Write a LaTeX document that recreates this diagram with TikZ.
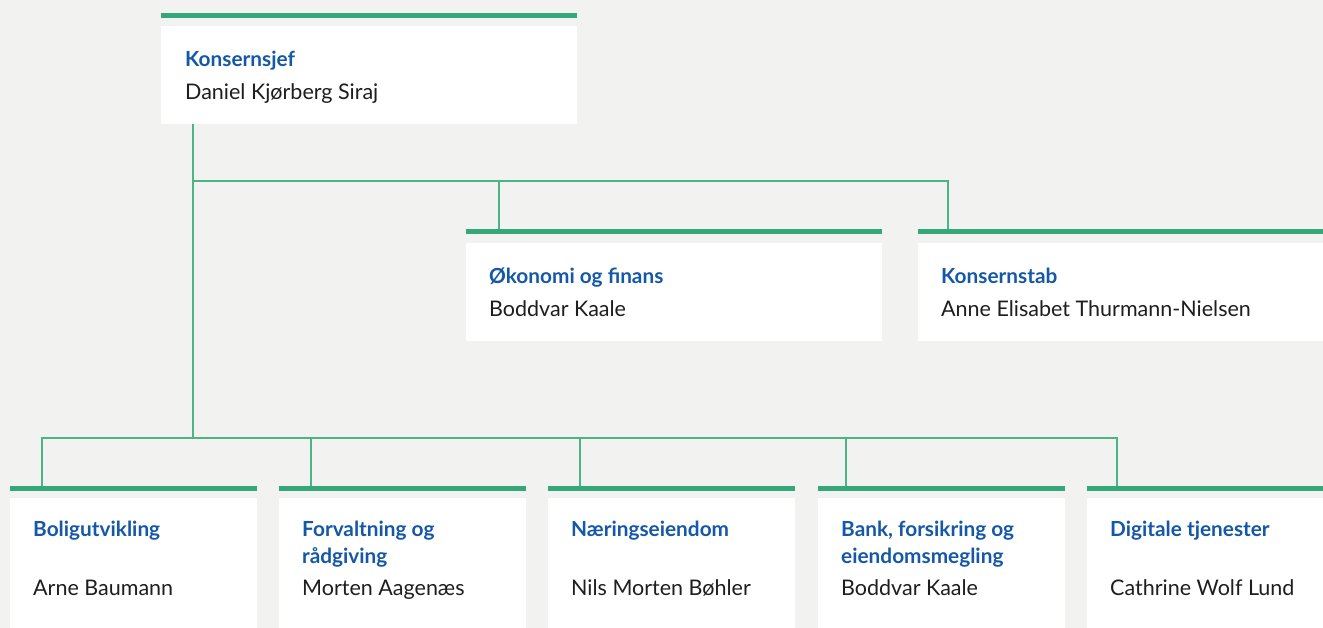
\documentclass[tikz,border=0pt]{standalone}
\usepackage{fontspec}
\setmainfont{Lato}
\usepackage{xcolor}
\usetikzlibrary{positioning}
\definecolor{bakgrunn}{HTML}{F2F2F0}
\definecolor{strekgronn}{HTML}{34A87A}
\definecolor{linjegronn}{HTML}{4DB487}
\definecolor{tittelblaa}{HTML}{1558A8}
\definecolor{navnsort}{HTML}{1E1E1E}
\tikzset{
  boks/.style = {rectangle, fill=white, anchor=north west, inner sep=0pt, minimum height=98pt},
  strek/.style = {rectangle, fill=strekgronn, anchor=north west, inner sep=0pt, minimum height=5pt},
  linje/.style = {draw=linjegronn, line width=1.2pt},
  tittel/.style = {anchor=base west, inner sep=0pt, align=left, text=tittelblaa,
    font=\fontsize{20.8pt}{27pt}\selectfont\bfseries},
  navn/.style = {anchor=base west, inner sep=0pt, text=navnsort,
    font=\fontsize{21.5pt}{24pt}\selectfont}}

\begin{document}
\begin{tikzpicture}[x=1pt, y=-1pt]

    \useasboundingbox (0,0) rectangle (1323,628);
    \clip (0,0) rectangle (1323,628);
    \fill[bakgrunn] (0,0) rectangle (1323,628);

    % konsernsjef
    \node[strek, minimum width=416pt] (sjef-strek) at (161,13) {};
    \node[boks, minimum width=416pt] (sjef) at (161,26) {};
    \node[tittel] (sjef-t) at ([xshift=24pt, yshift=-41pt]sjef.north west) {Konsernsjef};
    \node[navn] (sjef-n) at ([xshift=24pt, yshift=-74pt]sjef.north west) {Daniel Kjørberg Siraj};

    % stab
    \node[strek, minimum width=416pt] (okonomi-strek) at (466,229) {};
    \node[boks, minimum width=416pt] (okonomi) at (466,243) {};
    \node[tittel] (okonomi-t) at ([xshift=23pt, yshift=-41pt]okonomi.north west) {Økonomi og finans};
    \node[navn] (okonomi-n) at ([xshift=23pt, yshift=-74pt]okonomi.north west) {Boddvar Kaale};

    \node[strek, minimum width=416pt] (stab-strek) at (918,229) {};
    \node[boks, minimum width=416pt] (stab) at (918,243) {};
    \node[tittel] (stab-t) at ([xshift=23pt, yshift=-41pt]stab.north west) {Konsernstab};
    \node[navn] (stab-n) at ([xshift=23pt, yshift=-74pt]stab.north west) {Anne Elisabet Thurmann-Nielsen};

    % forretningsomraader
    \node[strek, minimum width=247pt] (bolig-strek) at (10,486) {};
    \node[boks, minimum width=247pt, minimum height=160pt] (bolig) at (10,498) {};
    \node[tittel] (bolig-t) at ([xshift=23pt, yshift=-38pt]bolig.north west) {Boligutvikling};
    \node[navn] (bolig-n) at ([xshift=23pt, yshift=-97pt]bolig.north west) {Arne Baumann};

    \node[strek, minimum width=247pt] (forvaltning-strek) at (279,486) {};
    \node[boks, minimum width=247pt, minimum height=160pt] (forvaltning) at (279,498) {};
    \node[tittel] (forvaltning-t) at ([xshift=23pt, yshift=-65pt]forvaltning.north west) {Forvaltning og\\rådgiving};
    \node[navn] (forvaltning-n) at ([xshift=23pt, yshift=-97pt]forvaltning.north west) {Morten Aagenæs};

    \node[strek, minimum width=247pt] (naering-strek) at (548,486) {};
    \node[boks, minimum width=247pt, minimum height=160pt] (naering) at (548,498) {};
    \node[tittel] (naering-t) at ([xshift=23pt, yshift=-38pt]naering.north west) {Næringseiendom};
    \node[navn] (naering-n) at ([xshift=23pt, yshift=-97pt]naering.north west) {Nils Morten Bøhler};

    \node[strek, minimum width=247pt] (bank-strek) at (818,486) {};
    \node[boks, minimum width=247pt, minimum height=160pt] (bank) at (818,498) {};
    \node[tittel] (bank-t) at ([xshift=23pt, yshift=-65pt]bank.north west) {Bank, forsikring og\\eiendomsmegling};
    \node[navn] (bank-n) at ([xshift=23pt, yshift=-97pt]bank.north west) {Boddvar Kaale};

    \node[strek, minimum width=247pt] (digital-strek) at (1087,486) {};
    \node[boks, minimum width=247pt, minimum height=160pt] (digital) at (1087,498) {};
    \node[tittel] (digital-t) at ([xshift=23pt, yshift=-38pt]digital.north west) {Digitale tjenester};
    \node[navn] (digital-n) at ([xshift=23pt, yshift=-97pt]digital.north west) {Cathrine Wolf Lund};

    % linjer
    \coordinate (gren-stab) at (193,181);
    \coordinate (gren-omr) at (193,438);
    \draw[linje] ([xshift=32pt]sjef.south west) -- (gren-omr);
    \draw[linje] (gren-stab) -| ([xshift=33pt]okonomi-strek.north west);
    \draw[linje] (gren-stab) -| ([xshift=30pt]stab-strek.north west);
    \draw[linje] (gren-omr) -| ([xshift=32pt]bolig-strek.north west);
    \draw[linje] (gren-omr) -| ([xshift=32pt]forvaltning-strek.north west);
    \draw[linje] (gren-omr) -| ([xshift=32pt]naering-strek.north west);
    \draw[linje] (gren-omr) -| ([xshift=28pt]bank-strek.north west);
    \draw[linje] (gren-omr) -| ([xshift=30pt]digital-strek.north west);

\end{tikzpicture}
\end{document}
